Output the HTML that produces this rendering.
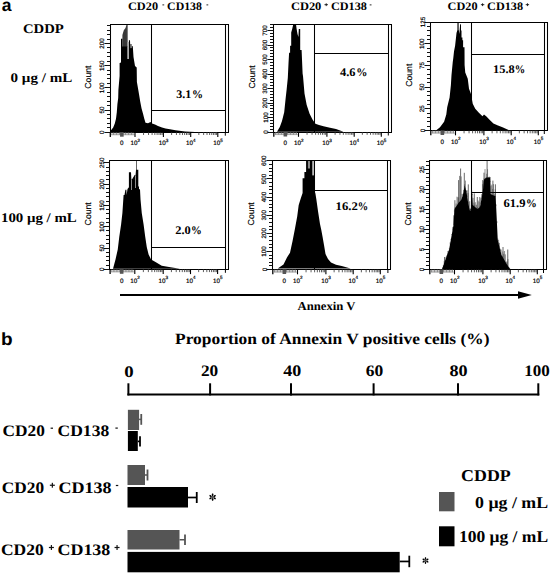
<!DOCTYPE html>
<html><head><meta charset="utf-8"><style>
html,body{margin:0;padding:0;background:#fff;width:552px;height:574px;overflow:hidden}
svg{display:block}
</style></head><body>
<svg width="552" height="574" viewBox="0 0 552 574" text-rendering="geometricPrecision">
<rect width="552" height="574" fill="#fff"/>
<polygon points="122.40,47.00 122.40,35.00 123.80,30.30 125.50,28.10 126.60,24.60 127.60,24.60 127.60,47.00" fill="#383838" />
<polygon points="110.00,132.00 111.20,129.90 113.20,127.50 114.80,123.50 116.00,118.70 116.80,112.30 117.40,104.30 118.20,98.00 118.40,90.00 119.60,76.00 119.60,63.00 121.00,62.50 121.00,38.80 122.40,38.80 122.40,46.50 127.60,46.50 127.60,59.00 128.90,59.00 128.90,40.20 130.00,40.20 130.30,48.00 131.60,48.00 131.80,46.10 132.80,46.30 133.50,57.00 135.00,66.00 136.70,67.40 136.90,82.00 138.30,90.00 139.10,94.80 140.30,102.00 141.50,108.30 143.10,113.90 144.30,118.70 145.50,122.70 148.00,123.20 150.50,122.00 152.00,123.50 155.00,124.60 158.00,126.00 162.00,127.40 165.50,128.50 170.00,129.30 175.50,130.30 185.00,131.50 200.00,132.20" fill="#000" />
<rect x="127.60" y="42.00" width="1.30" height="17.00" fill="#a8a8a8"/>
<rect x="130.10" y="44.00" width="1.60" height="4.20" fill="#5a5a5a"/>
<rect x="126.90" y="24.60" width="0.60" height="17.40" fill="#777"/>
<path d="M110.5 24.0V133.0M110.0 24.5H229.0M228.5 24.5V132.5M110.0 132.5H229.0M151.5 24.5V132.5M225.5 24.5V132.5M151.5 110.5H225.5" stroke="#000" stroke-width="1.05" fill="none"/>
<line x1="110.30" y1="132.20" x2="110.30" y2="137.00" stroke="#000" stroke-width="1.3" />
<line x1="112.00" y1="132.20" x2="112.00" y2="135.00" stroke="#666" stroke-width="0.7" />
<line x1="113.50" y1="132.20" x2="113.50" y2="135.00" stroke="#666" stroke-width="0.7" />
<line x1="115.00" y1="132.20" x2="115.00" y2="135.00" stroke="#666" stroke-width="0.7" />
<line x1="116.50" y1="132.20" x2="116.50" y2="135.00" stroke="#666" stroke-width="0.7" />
<line x1="118.00" y1="132.20" x2="118.00" y2="135.00" stroke="#666" stroke-width="0.7" />
<line x1="119.50" y1="132.20" x2="119.50" y2="135.00" stroke="#666" stroke-width="0.7" />
<line x1="121.00" y1="132.20" x2="121.00" y2="135.00" stroke="#666" stroke-width="0.7" />
<line x1="122.50" y1="132.20" x2="122.50" y2="135.00" stroke="#666" stroke-width="0.7" />
<line x1="124.00" y1="132.20" x2="124.00" y2="135.00" stroke="#666" stroke-width="0.7" />
<line x1="125.50" y1="132.20" x2="125.50" y2="135.00" stroke="#666" stroke-width="0.7" />
<line x1="127.00" y1="132.20" x2="127.00" y2="135.00" stroke="#666" stroke-width="0.7" />
<line x1="128.50" y1="132.20" x2="128.50" y2="135.00" stroke="#666" stroke-width="0.7" />
<line x1="130.00" y1="132.20" x2="130.00" y2="135.00" stroke="#666" stroke-width="0.7" />
<line x1="131.50" y1="132.20" x2="131.50" y2="135.00" stroke="#666" stroke-width="0.7" />
<line x1="133.00" y1="132.20" x2="133.00" y2="135.00" stroke="#666" stroke-width="0.7" />
<line x1="111.00" y1="134.80" x2="135.00" y2="134.80" stroke="#888" stroke-width="0.6" />
<rect x="120.05" y="132.20" width="3.6" height="4.5" fill="#555"/>
<line x1="135.00" y1="132.20" x2="135.00" y2="137.00" stroke="#000" stroke-width="1.1" />
<line x1="143.55" y1="132.20" x2="143.55" y2="135.00" stroke="#333" stroke-width="0.8" />
<line x1="148.55" y1="132.20" x2="148.55" y2="135.00" stroke="#333" stroke-width="0.8" />
<line x1="152.10" y1="132.20" x2="152.10" y2="135.00" stroke="#333" stroke-width="0.8" />
<line x1="154.85" y1="132.20" x2="154.85" y2="135.00" stroke="#333" stroke-width="0.8" />
<line x1="157.10" y1="132.20" x2="157.10" y2="135.00" stroke="#333" stroke-width="0.8" />
<line x1="159.00" y1="132.20" x2="159.00" y2="135.00" stroke="#333" stroke-width="0.8" />
<line x1="160.65" y1="132.20" x2="160.65" y2="135.00" stroke="#333" stroke-width="0.8" />
<line x1="162.10" y1="132.20" x2="162.10" y2="135.00" stroke="#333" stroke-width="0.8" />
<line x1="163.40" y1="132.20" x2="163.40" y2="137.00" stroke="#000" stroke-width="1.1" />
<line x1="171.62" y1="132.20" x2="171.62" y2="135.00" stroke="#333" stroke-width="0.8" />
<line x1="176.43" y1="132.20" x2="176.43" y2="135.00" stroke="#333" stroke-width="0.8" />
<line x1="179.84" y1="132.20" x2="179.84" y2="135.00" stroke="#333" stroke-width="0.8" />
<line x1="182.48" y1="132.20" x2="182.48" y2="135.00" stroke="#333" stroke-width="0.8" />
<line x1="184.64" y1="132.20" x2="184.64" y2="135.00" stroke="#333" stroke-width="0.8" />
<line x1="186.47" y1="132.20" x2="186.47" y2="135.00" stroke="#333" stroke-width="0.8" />
<line x1="188.05" y1="132.20" x2="188.05" y2="135.00" stroke="#333" stroke-width="0.8" />
<line x1="189.45" y1="132.20" x2="189.45" y2="135.00" stroke="#333" stroke-width="0.8" />
<line x1="190.70" y1="132.20" x2="190.70" y2="137.00" stroke="#000" stroke-width="1.1" />
<line x1="198.86" y1="132.20" x2="198.86" y2="135.00" stroke="#333" stroke-width="0.8" />
<line x1="203.63" y1="132.20" x2="203.63" y2="135.00" stroke="#333" stroke-width="0.8" />
<line x1="207.02" y1="132.20" x2="207.02" y2="135.00" stroke="#333" stroke-width="0.8" />
<line x1="209.64" y1="132.20" x2="209.64" y2="135.00" stroke="#333" stroke-width="0.8" />
<line x1="211.79" y1="132.20" x2="211.79" y2="135.00" stroke="#333" stroke-width="0.8" />
<line x1="213.60" y1="132.20" x2="213.60" y2="135.00" stroke="#333" stroke-width="0.8" />
<line x1="215.17" y1="132.20" x2="215.17" y2="135.00" stroke="#333" stroke-width="0.8" />
<line x1="216.56" y1="132.20" x2="216.56" y2="135.00" stroke="#333" stroke-width="0.8" />
<line x1="217.80" y1="132.20" x2="217.80" y2="137.00" stroke="#000" stroke-width="1.1" />
<line x1="225.30" y1="132.20" x2="225.30" y2="135.70" stroke="#000" stroke-width="1" />
<text x="121.85" y="145.40" font-family='"Liberation Sans", sans-serif' font-size="6.3" stroke="#000" stroke-width="0.18" text-anchor="middle">0</text>
<text x="130.40" y="145.40" font-family='"Liberation Sans", sans-serif' font-size="6.3" stroke="#000" stroke-width="0.18">10<tspan font-size="4.6" dy="-3.6">2</tspan></text>
<text x="158.80" y="145.40" font-family='"Liberation Sans", sans-serif' font-size="6.3" stroke="#000" stroke-width="0.18">10<tspan font-size="4.6" dy="-3.6">3</tspan></text>
<text x="186.10" y="145.40" font-family='"Liberation Sans", sans-serif' font-size="6.3" stroke="#000" stroke-width="0.18">10<tspan font-size="4.6" dy="-3.6">4</tspan></text>
<text x="213.20" y="145.40" font-family='"Liberation Sans", sans-serif' font-size="6.3" stroke="#000" stroke-width="0.18">10<tspan font-size="4.6" dy="-3.6">5</tspan></text>
<line x1="104.50" y1="132.50" x2="110.50" y2="132.50" stroke="#111" stroke-width="1.0" />
<line x1="107.00" y1="127.50" x2="110.50" y2="127.50" stroke="#111" stroke-width="1.0" />
<line x1="107.00" y1="123.50" x2="110.50" y2="123.50" stroke="#111" stroke-width="1.0" />
<line x1="107.00" y1="118.50" x2="110.50" y2="118.50" stroke="#111" stroke-width="1.0" />
<line x1="107.00" y1="114.50" x2="110.50" y2="114.50" stroke="#111" stroke-width="1.0" />
<line x1="104.50" y1="110.50" x2="110.50" y2="110.50" stroke="#111" stroke-width="1.0" />
<line x1="107.00" y1="105.50" x2="110.50" y2="105.50" stroke="#111" stroke-width="1.0" />
<line x1="107.00" y1="101.50" x2="110.50" y2="101.50" stroke="#111" stroke-width="1.0" />
<line x1="107.00" y1="96.50" x2="110.50" y2="96.50" stroke="#111" stroke-width="1.0" />
<line x1="107.00" y1="92.50" x2="110.50" y2="92.50" stroke="#111" stroke-width="1.0" />
<line x1="104.50" y1="87.50" x2="110.50" y2="87.50" stroke="#111" stroke-width="1.0" />
<line x1="107.00" y1="83.50" x2="110.50" y2="83.50" stroke="#111" stroke-width="1.0" />
<line x1="107.00" y1="78.50" x2="110.50" y2="78.50" stroke="#111" stroke-width="1.0" />
<line x1="107.00" y1="74.50" x2="110.50" y2="74.50" stroke="#111" stroke-width="1.0" />
<line x1="107.00" y1="70.50" x2="110.50" y2="70.50" stroke="#111" stroke-width="1.0" />
<line x1="104.50" y1="65.50" x2="110.50" y2="65.50" stroke="#111" stroke-width="1.0" />
<line x1="107.00" y1="61.50" x2="110.50" y2="61.50" stroke="#111" stroke-width="1.0" />
<line x1="107.00" y1="56.50" x2="110.50" y2="56.50" stroke="#111" stroke-width="1.0" />
<line x1="107.00" y1="52.50" x2="110.50" y2="52.50" stroke="#111" stroke-width="1.0" />
<line x1="107.00" y1="47.50" x2="110.50" y2="47.50" stroke="#111" stroke-width="1.0" />
<line x1="104.50" y1="43.50" x2="110.50" y2="43.50" stroke="#111" stroke-width="1.0" />
<line x1="107.00" y1="39.50" x2="110.50" y2="39.50" stroke="#111" stroke-width="1.0" />
<line x1="107.00" y1="34.50" x2="110.50" y2="34.50" stroke="#111" stroke-width="1.0" />
<line x1="107.00" y1="30.50" x2="110.50" y2="30.50" stroke="#111" stroke-width="1.0" />
<line x1="107.00" y1="25.50" x2="110.50" y2="25.50" stroke="#111" stroke-width="1.0" />
<text x="104.00" y="132.20" font-family='"Liberation Sans", sans-serif' font-size="6.3" stroke="#000" stroke-width="0.18" text-anchor="middle" transform="rotate(-90 104.00 132.20)">0</text>
<text x="104.00" y="110.03" font-family='"Liberation Sans", sans-serif' font-size="6.3" stroke="#000" stroke-width="0.18" text-anchor="middle" transform="rotate(-90 104.00 110.03)">50</text>
<text x="104.00" y="87.86" font-family='"Liberation Sans", sans-serif' font-size="6.3" stroke="#000" stroke-width="0.18" text-anchor="middle" transform="rotate(-90 104.00 87.86)">100</text>
<text x="104.00" y="65.68" font-family='"Liberation Sans", sans-serif' font-size="6.3" stroke="#000" stroke-width="0.18" text-anchor="middle" transform="rotate(-90 104.00 65.68)">150</text>
<text x="104.00" y="43.51" font-family='"Liberation Sans", sans-serif' font-size="6.3" stroke="#000" stroke-width="0.18" text-anchor="middle" transform="rotate(-90 104.00 43.51)">200</text>
<text x="91.50" y="77.10" font-family='"Liberation Sans", sans-serif' font-size="8.7" stroke="#000" stroke-width="0.15" text-anchor="middle" transform="rotate(-90 91.50 77.10)">Count</text>
<polygon points="277.00,131.80 279.90,126.70 282.00,121.00 284.20,112.20 285.70,97.70 286.70,89.00 287.80,78.00 288.50,63.50 289.10,52.70 290.10,52.70 290.10,45.70 291.20,45.70 291.20,32.50 292.20,29.00 293.30,24.30 296.00,24.30 296.50,28.30 297.50,33.90 298.40,37.00 298.80,29.00 300.20,29.00 300.20,49.90 301.60,49.90 302.60,73.60 303.00,76.00 304.50,93.40 306.70,105.00 309.60,113.70 312.50,119.50 315.40,123.80 319.00,125.00 323.50,126.30 330.00,127.80 336.00,129.00 343.50,131.70" fill="#000" />
<path d="M273.5 24.0V133.0M273.0 24.5H392.0M391.5 24.5V132.5M273.0 132.5H392.0M314.5 24.5V132.5M388.5 24.5V132.5M314.5 53.5H388.5" stroke="#000" stroke-width="1.05" fill="none"/>
<line x1="273.80" y1="132.00" x2="273.80" y2="136.80" stroke="#000" stroke-width="1.3" />
<line x1="275.50" y1="132.00" x2="275.50" y2="134.80" stroke="#666" stroke-width="0.7" />
<line x1="277.00" y1="132.00" x2="277.00" y2="134.80" stroke="#666" stroke-width="0.7" />
<line x1="278.50" y1="132.00" x2="278.50" y2="134.80" stroke="#666" stroke-width="0.7" />
<line x1="280.00" y1="132.00" x2="280.00" y2="134.80" stroke="#666" stroke-width="0.7" />
<line x1="281.50" y1="132.00" x2="281.50" y2="134.80" stroke="#666" stroke-width="0.7" />
<line x1="283.00" y1="132.00" x2="283.00" y2="134.80" stroke="#666" stroke-width="0.7" />
<line x1="284.50" y1="132.00" x2="284.50" y2="134.80" stroke="#666" stroke-width="0.7" />
<line x1="286.00" y1="132.00" x2="286.00" y2="134.80" stroke="#666" stroke-width="0.7" />
<line x1="287.50" y1="132.00" x2="287.50" y2="134.80" stroke="#666" stroke-width="0.7" />
<line x1="289.00" y1="132.00" x2="289.00" y2="134.80" stroke="#666" stroke-width="0.7" />
<line x1="290.50" y1="132.00" x2="290.50" y2="134.80" stroke="#666" stroke-width="0.7" />
<line x1="292.00" y1="132.00" x2="292.00" y2="134.80" stroke="#666" stroke-width="0.7" />
<line x1="293.50" y1="132.00" x2="293.50" y2="134.80" stroke="#666" stroke-width="0.7" />
<line x1="295.00" y1="132.00" x2="295.00" y2="134.80" stroke="#666" stroke-width="0.7" />
<line x1="296.50" y1="132.00" x2="296.50" y2="134.80" stroke="#666" stroke-width="0.7" />
<line x1="274.50" y1="134.60" x2="298.50" y2="134.60" stroke="#888" stroke-width="0.6" />
<rect x="283.55" y="132.00" width="3.6" height="4.5" fill="#555"/>
<line x1="298.50" y1="132.00" x2="298.50" y2="136.80" stroke="#000" stroke-width="1.1" />
<line x1="307.05" y1="132.00" x2="307.05" y2="134.80" stroke="#333" stroke-width="0.8" />
<line x1="312.05" y1="132.00" x2="312.05" y2="134.80" stroke="#333" stroke-width="0.8" />
<line x1="315.60" y1="132.00" x2="315.60" y2="134.80" stroke="#333" stroke-width="0.8" />
<line x1="318.35" y1="132.00" x2="318.35" y2="134.80" stroke="#333" stroke-width="0.8" />
<line x1="320.60" y1="132.00" x2="320.60" y2="134.80" stroke="#333" stroke-width="0.8" />
<line x1="322.50" y1="132.00" x2="322.50" y2="134.80" stroke="#333" stroke-width="0.8" />
<line x1="324.15" y1="132.00" x2="324.15" y2="134.80" stroke="#333" stroke-width="0.8" />
<line x1="325.60" y1="132.00" x2="325.60" y2="134.80" stroke="#333" stroke-width="0.8" />
<line x1="326.90" y1="132.00" x2="326.90" y2="136.80" stroke="#000" stroke-width="1.1" />
<line x1="335.12" y1="132.00" x2="335.12" y2="134.80" stroke="#333" stroke-width="0.8" />
<line x1="339.93" y1="132.00" x2="339.93" y2="134.80" stroke="#333" stroke-width="0.8" />
<line x1="343.34" y1="132.00" x2="343.34" y2="134.80" stroke="#333" stroke-width="0.8" />
<line x1="345.98" y1="132.00" x2="345.98" y2="134.80" stroke="#333" stroke-width="0.8" />
<line x1="348.14" y1="132.00" x2="348.14" y2="134.80" stroke="#333" stroke-width="0.8" />
<line x1="349.97" y1="132.00" x2="349.97" y2="134.80" stroke="#333" stroke-width="0.8" />
<line x1="351.55" y1="132.00" x2="351.55" y2="134.80" stroke="#333" stroke-width="0.8" />
<line x1="352.95" y1="132.00" x2="352.95" y2="134.80" stroke="#333" stroke-width="0.8" />
<line x1="354.20" y1="132.00" x2="354.20" y2="136.80" stroke="#000" stroke-width="1.1" />
<line x1="362.36" y1="132.00" x2="362.36" y2="134.80" stroke="#333" stroke-width="0.8" />
<line x1="367.13" y1="132.00" x2="367.13" y2="134.80" stroke="#333" stroke-width="0.8" />
<line x1="370.52" y1="132.00" x2="370.52" y2="134.80" stroke="#333" stroke-width="0.8" />
<line x1="373.14" y1="132.00" x2="373.14" y2="134.80" stroke="#333" stroke-width="0.8" />
<line x1="375.29" y1="132.00" x2="375.29" y2="134.80" stroke="#333" stroke-width="0.8" />
<line x1="377.10" y1="132.00" x2="377.10" y2="134.80" stroke="#333" stroke-width="0.8" />
<line x1="378.67" y1="132.00" x2="378.67" y2="134.80" stroke="#333" stroke-width="0.8" />
<line x1="380.06" y1="132.00" x2="380.06" y2="134.80" stroke="#333" stroke-width="0.8" />
<line x1="381.30" y1="132.00" x2="381.30" y2="136.80" stroke="#000" stroke-width="1.1" />
<line x1="388.30" y1="132.00" x2="388.30" y2="135.50" stroke="#000" stroke-width="1" />
<text x="285.35" y="145.20" font-family='"Liberation Sans", sans-serif' font-size="6.3" stroke="#000" stroke-width="0.18" text-anchor="middle">0</text>
<text x="293.90" y="145.20" font-family='"Liberation Sans", sans-serif' font-size="6.3" stroke="#000" stroke-width="0.18">10<tspan font-size="4.6" dy="-3.6">2</tspan></text>
<text x="322.30" y="145.20" font-family='"Liberation Sans", sans-serif' font-size="6.3" stroke="#000" stroke-width="0.18">10<tspan font-size="4.6" dy="-3.6">3</tspan></text>
<text x="349.60" y="145.20" font-family='"Liberation Sans", sans-serif' font-size="6.3" stroke="#000" stroke-width="0.18">10<tspan font-size="4.6" dy="-3.6">4</tspan></text>
<text x="376.70" y="145.20" font-family='"Liberation Sans", sans-serif' font-size="6.3" stroke="#000" stroke-width="0.18">10<tspan font-size="4.6" dy="-3.6">5</tspan></text>
<line x1="267.50" y1="132.50" x2="273.50" y2="132.50" stroke="#111" stroke-width="1.0" />
<line x1="270.00" y1="129.50" x2="273.50" y2="129.50" stroke="#111" stroke-width="1.0" />
<line x1="270.00" y1="126.50" x2="273.50" y2="126.50" stroke="#111" stroke-width="1.0" />
<line x1="270.00" y1="123.50" x2="273.50" y2="123.50" stroke="#111" stroke-width="1.0" />
<line x1="270.00" y1="120.50" x2="273.50" y2="120.50" stroke="#111" stroke-width="1.0" />
<line x1="267.50" y1="117.50" x2="273.50" y2="117.50" stroke="#111" stroke-width="1.0" />
<line x1="270.00" y1="114.50" x2="273.50" y2="114.50" stroke="#111" stroke-width="1.0" />
<line x1="270.00" y1="111.50" x2="273.50" y2="111.50" stroke="#111" stroke-width="1.0" />
<line x1="270.00" y1="108.50" x2="273.50" y2="108.50" stroke="#111" stroke-width="1.0" />
<line x1="270.00" y1="105.50" x2="273.50" y2="105.50" stroke="#111" stroke-width="1.0" />
<line x1="267.50" y1="103.50" x2="273.50" y2="103.50" stroke="#111" stroke-width="1.0" />
<line x1="270.00" y1="100.50" x2="273.50" y2="100.50" stroke="#111" stroke-width="1.0" />
<line x1="270.00" y1="97.50" x2="273.50" y2="97.50" stroke="#111" stroke-width="1.0" />
<line x1="270.00" y1="94.50" x2="273.50" y2="94.50" stroke="#111" stroke-width="1.0" />
<line x1="270.00" y1="91.50" x2="273.50" y2="91.50" stroke="#111" stroke-width="1.0" />
<line x1="267.50" y1="88.50" x2="273.50" y2="88.50" stroke="#111" stroke-width="1.0" />
<line x1="270.00" y1="85.50" x2="273.50" y2="85.50" stroke="#111" stroke-width="1.0" />
<line x1="270.00" y1="82.50" x2="273.50" y2="82.50" stroke="#111" stroke-width="1.0" />
<line x1="270.00" y1="79.50" x2="273.50" y2="79.50" stroke="#111" stroke-width="1.0" />
<line x1="270.00" y1="76.50" x2="273.50" y2="76.50" stroke="#111" stroke-width="1.0" />
<line x1="267.50" y1="74.50" x2="273.50" y2="74.50" stroke="#111" stroke-width="1.0" />
<line x1="270.00" y1="71.50" x2="273.50" y2="71.50" stroke="#111" stroke-width="1.0" />
<line x1="270.00" y1="68.50" x2="273.50" y2="68.50" stroke="#111" stroke-width="1.0" />
<line x1="270.00" y1="65.50" x2="273.50" y2="65.50" stroke="#111" stroke-width="1.0" />
<line x1="270.00" y1="62.50" x2="273.50" y2="62.50" stroke="#111" stroke-width="1.0" />
<line x1="267.50" y1="59.50" x2="273.50" y2="59.50" stroke="#111" stroke-width="1.0" />
<line x1="270.00" y1="56.50" x2="273.50" y2="56.50" stroke="#111" stroke-width="1.0" />
<line x1="270.00" y1="53.50" x2="273.50" y2="53.50" stroke="#111" stroke-width="1.0" />
<line x1="270.00" y1="50.50" x2="273.50" y2="50.50" stroke="#111" stroke-width="1.0" />
<line x1="270.00" y1="47.50" x2="273.50" y2="47.50" stroke="#111" stroke-width="1.0" />
<line x1="267.50" y1="45.50" x2="273.50" y2="45.50" stroke="#111" stroke-width="1.0" />
<line x1="270.00" y1="42.50" x2="273.50" y2="42.50" stroke="#111" stroke-width="1.0" />
<line x1="270.00" y1="39.50" x2="273.50" y2="39.50" stroke="#111" stroke-width="1.0" />
<line x1="270.00" y1="36.50" x2="273.50" y2="36.50" stroke="#111" stroke-width="1.0" />
<line x1="270.00" y1="33.50" x2="273.50" y2="33.50" stroke="#111" stroke-width="1.0" />
<line x1="267.50" y1="30.50" x2="273.50" y2="30.50" stroke="#111" stroke-width="1.0" />
<line x1="270.00" y1="27.50" x2="273.50" y2="27.50" stroke="#111" stroke-width="1.0" />
<line x1="270.00" y1="24.50" x2="273.50" y2="24.50" stroke="#111" stroke-width="1.0" />
<text x="267.50" y="132.00" font-family='"Liberation Sans", sans-serif' font-size="6.3" stroke="#000" stroke-width="0.18" text-anchor="middle" transform="rotate(-90 267.50 132.00)">0</text>
<text x="267.50" y="117.50" font-family='"Liberation Sans", sans-serif' font-size="6.3" stroke="#000" stroke-width="0.18" text-anchor="middle" transform="rotate(-90 267.50 117.50)">100</text>
<text x="267.50" y="103.01" font-family='"Liberation Sans", sans-serif' font-size="6.3" stroke="#000" stroke-width="0.18" text-anchor="middle" transform="rotate(-90 267.50 103.01)">200</text>
<text x="267.50" y="88.51" font-family='"Liberation Sans", sans-serif' font-size="6.3" stroke="#000" stroke-width="0.18" text-anchor="middle" transform="rotate(-90 267.50 88.51)">300</text>
<text x="267.50" y="74.01" font-family='"Liberation Sans", sans-serif' font-size="6.3" stroke="#000" stroke-width="0.18" text-anchor="middle" transform="rotate(-90 267.50 74.01)">400</text>
<text x="267.50" y="59.52" font-family='"Liberation Sans", sans-serif' font-size="6.3" stroke="#000" stroke-width="0.18" text-anchor="middle" transform="rotate(-90 267.50 59.52)">500</text>
<text x="267.50" y="45.02" font-family='"Liberation Sans", sans-serif' font-size="6.3" stroke="#000" stroke-width="0.18" text-anchor="middle" transform="rotate(-90 267.50 45.02)">600</text>
<text x="267.50" y="30.52" font-family='"Liberation Sans", sans-serif' font-size="6.3" stroke="#000" stroke-width="0.18" text-anchor="middle" transform="rotate(-90 267.50 30.52)">700</text>
<text x="255.00" y="77.00" font-family='"Liberation Sans", sans-serif' font-size="8.7" stroke="#000" stroke-width="0.15" text-anchor="middle" transform="rotate(-90 255.00 77.00)">Count</text>
<polygon points="436.30,130.20 440.00,127.20 444.10,121.70 446.30,114.50 447.20,107.20 449.60,97.50 450.90,85.00 451.50,75.00 452.75,62.00 453.30,58.00 454.00,51.40 455.10,45.80 456.10,36.70 456.50,32.90 457.40,30.00 457.50,22.60 458.70,22.60 458.80,30.00 459.30,34.00 460.00,26.00 460.20,24.20 461.00,24.20 461.00,30.50 461.50,30.50 461.50,37.40 462.40,37.40 462.40,40.20 463.10,40.20 463.10,47.20 464.50,47.20 464.60,65.00 465.25,72.50 467.75,78.75 469.00,88.75 470.90,93.75 472.75,103.75 475.25,108.75 478.90,112.70 482.50,116.30 484.00,114.50 486.20,116.30 489.80,120.00 493.40,123.60 498.00,125.50 502.50,127.20 509.70,130.40" fill="#000" />
<rect x="457.50" y="22.60" width="1.20" height="7.40" fill="#6a6a6a"/>
<path d="M430.5 22.0V131.0M430.0 22.5H548.0M547.5 22.5V130.5M430.0 130.5H548.0M471.5 22.5V130.5M544.5 22.5V130.5M471.5 54.5H544.5" stroke="#000" stroke-width="1.05" fill="none"/>
<line x1="430.80" y1="130.50" x2="430.80" y2="135.30" stroke="#000" stroke-width="1.3" />
<line x1="432.50" y1="130.50" x2="432.50" y2="133.30" stroke="#666" stroke-width="0.7" />
<line x1="434.00" y1="130.50" x2="434.00" y2="133.30" stroke="#666" stroke-width="0.7" />
<line x1="435.50" y1="130.50" x2="435.50" y2="133.30" stroke="#666" stroke-width="0.7" />
<line x1="437.00" y1="130.50" x2="437.00" y2="133.30" stroke="#666" stroke-width="0.7" />
<line x1="438.50" y1="130.50" x2="438.50" y2="133.30" stroke="#666" stroke-width="0.7" />
<line x1="440.00" y1="130.50" x2="440.00" y2="133.30" stroke="#666" stroke-width="0.7" />
<line x1="441.50" y1="130.50" x2="441.50" y2="133.30" stroke="#666" stroke-width="0.7" />
<line x1="443.00" y1="130.50" x2="443.00" y2="133.30" stroke="#666" stroke-width="0.7" />
<line x1="444.50" y1="130.50" x2="444.50" y2="133.30" stroke="#666" stroke-width="0.7" />
<line x1="446.00" y1="130.50" x2="446.00" y2="133.30" stroke="#666" stroke-width="0.7" />
<line x1="447.50" y1="130.50" x2="447.50" y2="133.30" stroke="#666" stroke-width="0.7" />
<line x1="449.00" y1="130.50" x2="449.00" y2="133.30" stroke="#666" stroke-width="0.7" />
<line x1="450.50" y1="130.50" x2="450.50" y2="133.30" stroke="#666" stroke-width="0.7" />
<line x1="452.00" y1="130.50" x2="452.00" y2="133.30" stroke="#666" stroke-width="0.7" />
<line x1="453.50" y1="130.50" x2="453.50" y2="133.30" stroke="#666" stroke-width="0.7" />
<line x1="431.50" y1="133.10" x2="455.50" y2="133.10" stroke="#888" stroke-width="0.6" />
<rect x="440.55" y="130.50" width="3.6" height="4.5" fill="#555"/>
<line x1="455.50" y1="130.50" x2="455.50" y2="135.30" stroke="#000" stroke-width="1.1" />
<line x1="464.05" y1="130.50" x2="464.05" y2="133.30" stroke="#333" stroke-width="0.8" />
<line x1="469.05" y1="130.50" x2="469.05" y2="133.30" stroke="#333" stroke-width="0.8" />
<line x1="472.60" y1="130.50" x2="472.60" y2="133.30" stroke="#333" stroke-width="0.8" />
<line x1="475.35" y1="130.50" x2="475.35" y2="133.30" stroke="#333" stroke-width="0.8" />
<line x1="477.60" y1="130.50" x2="477.60" y2="133.30" stroke="#333" stroke-width="0.8" />
<line x1="479.50" y1="130.50" x2="479.50" y2="133.30" stroke="#333" stroke-width="0.8" />
<line x1="481.15" y1="130.50" x2="481.15" y2="133.30" stroke="#333" stroke-width="0.8" />
<line x1="482.60" y1="130.50" x2="482.60" y2="133.30" stroke="#333" stroke-width="0.8" />
<line x1="483.90" y1="130.50" x2="483.90" y2="135.30" stroke="#000" stroke-width="1.1" />
<line x1="492.12" y1="130.50" x2="492.12" y2="133.30" stroke="#333" stroke-width="0.8" />
<line x1="496.93" y1="130.50" x2="496.93" y2="133.30" stroke="#333" stroke-width="0.8" />
<line x1="500.34" y1="130.50" x2="500.34" y2="133.30" stroke="#333" stroke-width="0.8" />
<line x1="502.98" y1="130.50" x2="502.98" y2="133.30" stroke="#333" stroke-width="0.8" />
<line x1="505.14" y1="130.50" x2="505.14" y2="133.30" stroke="#333" stroke-width="0.8" />
<line x1="506.97" y1="130.50" x2="506.97" y2="133.30" stroke="#333" stroke-width="0.8" />
<line x1="508.55" y1="130.50" x2="508.55" y2="133.30" stroke="#333" stroke-width="0.8" />
<line x1="509.95" y1="130.50" x2="509.95" y2="133.30" stroke="#333" stroke-width="0.8" />
<line x1="511.20" y1="130.50" x2="511.20" y2="135.30" stroke="#000" stroke-width="1.1" />
<line x1="519.36" y1="130.50" x2="519.36" y2="133.30" stroke="#333" stroke-width="0.8" />
<line x1="524.13" y1="130.50" x2="524.13" y2="133.30" stroke="#333" stroke-width="0.8" />
<line x1="527.52" y1="130.50" x2="527.52" y2="133.30" stroke="#333" stroke-width="0.8" />
<line x1="530.14" y1="130.50" x2="530.14" y2="133.30" stroke="#333" stroke-width="0.8" />
<line x1="532.29" y1="130.50" x2="532.29" y2="133.30" stroke="#333" stroke-width="0.8" />
<line x1="534.10" y1="130.50" x2="534.10" y2="133.30" stroke="#333" stroke-width="0.8" />
<line x1="535.67" y1="130.50" x2="535.67" y2="133.30" stroke="#333" stroke-width="0.8" />
<line x1="537.06" y1="130.50" x2="537.06" y2="133.30" stroke="#333" stroke-width="0.8" />
<line x1="538.30" y1="130.50" x2="538.30" y2="135.30" stroke="#000" stroke-width="1.1" />
<line x1="544.30" y1="130.50" x2="544.30" y2="134.00" stroke="#000" stroke-width="1" />
<text x="442.35" y="143.70" font-family='"Liberation Sans", sans-serif' font-size="6.3" stroke="#000" stroke-width="0.18" text-anchor="middle">0</text>
<text x="450.90" y="143.70" font-family='"Liberation Sans", sans-serif' font-size="6.3" stroke="#000" stroke-width="0.18">10<tspan font-size="4.6" dy="-3.6">2</tspan></text>
<text x="479.30" y="143.70" font-family='"Liberation Sans", sans-serif' font-size="6.3" stroke="#000" stroke-width="0.18">10<tspan font-size="4.6" dy="-3.6">3</tspan></text>
<text x="506.60" y="143.70" font-family='"Liberation Sans", sans-serif' font-size="6.3" stroke="#000" stroke-width="0.18">10<tspan font-size="4.6" dy="-3.6">4</tspan></text>
<text x="533.70" y="143.70" font-family='"Liberation Sans", sans-serif' font-size="6.3" stroke="#000" stroke-width="0.18">10<tspan font-size="4.6" dy="-3.6">5</tspan></text>
<line x1="424.50" y1="130.50" x2="430.50" y2="130.50" stroke="#111" stroke-width="1.0" />
<line x1="427.00" y1="126.50" x2="430.50" y2="126.50" stroke="#111" stroke-width="1.0" />
<line x1="427.00" y1="121.50" x2="430.50" y2="121.50" stroke="#111" stroke-width="1.0" />
<line x1="427.00" y1="117.50" x2="430.50" y2="117.50" stroke="#111" stroke-width="1.0" />
<line x1="427.00" y1="113.50" x2="430.50" y2="113.50" stroke="#111" stroke-width="1.0" />
<line x1="424.50" y1="108.50" x2="430.50" y2="108.50" stroke="#111" stroke-width="1.0" />
<line x1="427.00" y1="104.50" x2="430.50" y2="104.50" stroke="#111" stroke-width="1.0" />
<line x1="427.00" y1="100.50" x2="430.50" y2="100.50" stroke="#111" stroke-width="1.0" />
<line x1="427.00" y1="95.50" x2="430.50" y2="95.50" stroke="#111" stroke-width="1.0" />
<line x1="427.00" y1="91.50" x2="430.50" y2="91.50" stroke="#111" stroke-width="1.0" />
<line x1="424.50" y1="87.50" x2="430.50" y2="87.50" stroke="#111" stroke-width="1.0" />
<line x1="427.00" y1="82.50" x2="430.50" y2="82.50" stroke="#111" stroke-width="1.0" />
<line x1="427.00" y1="78.50" x2="430.50" y2="78.50" stroke="#111" stroke-width="1.0" />
<line x1="427.00" y1="74.50" x2="430.50" y2="74.50" stroke="#111" stroke-width="1.0" />
<line x1="427.00" y1="69.50" x2="430.50" y2="69.50" stroke="#111" stroke-width="1.0" />
<line x1="424.50" y1="65.50" x2="430.50" y2="65.50" stroke="#111" stroke-width="1.0" />
<line x1="427.00" y1="61.50" x2="430.50" y2="61.50" stroke="#111" stroke-width="1.0" />
<line x1="427.00" y1="56.50" x2="430.50" y2="56.50" stroke="#111" stroke-width="1.0" />
<line x1="427.00" y1="52.50" x2="430.50" y2="52.50" stroke="#111" stroke-width="1.0" />
<line x1="427.00" y1="48.50" x2="430.50" y2="48.50" stroke="#111" stroke-width="1.0" />
<line x1="424.50" y1="43.50" x2="430.50" y2="43.50" stroke="#111" stroke-width="1.0" />
<line x1="427.00" y1="39.50" x2="430.50" y2="39.50" stroke="#111" stroke-width="1.0" />
<line x1="427.00" y1="35.50" x2="430.50" y2="35.50" stroke="#111" stroke-width="1.0" />
<line x1="427.00" y1="30.50" x2="430.50" y2="30.50" stroke="#111" stroke-width="1.0" />
<line x1="427.00" y1="26.50" x2="430.50" y2="26.50" stroke="#111" stroke-width="1.0" />
<line x1="424.50" y1="22.50" x2="430.50" y2="22.50" stroke="#111" stroke-width="1.0" />
<text x="424.50" y="130.50" font-family='"Liberation Sans", sans-serif' font-size="6.3" stroke="#000" stroke-width="0.18" text-anchor="middle" transform="rotate(-90 424.50 130.50)">0</text>
<text x="424.50" y="108.80" font-family='"Liberation Sans", sans-serif' font-size="6.3" stroke="#000" stroke-width="0.18" text-anchor="middle" transform="rotate(-90 424.50 108.80)">25</text>
<text x="424.50" y="87.10" font-family='"Liberation Sans", sans-serif' font-size="6.3" stroke="#000" stroke-width="0.18" text-anchor="middle" transform="rotate(-90 424.50 87.10)">50</text>
<text x="424.50" y="65.40" font-family='"Liberation Sans", sans-serif' font-size="6.3" stroke="#000" stroke-width="0.18" text-anchor="middle" transform="rotate(-90 424.50 65.40)">75</text>
<text x="424.50" y="43.70" font-family='"Liberation Sans", sans-serif' font-size="6.3" stroke="#000" stroke-width="0.18" text-anchor="middle" transform="rotate(-90 424.50 43.70)">100</text>
<text x="424.50" y="22.00" font-family='"Liberation Sans", sans-serif' font-size="6.3" stroke="#000" stroke-width="0.18" text-anchor="middle" transform="rotate(-90 424.50 22.00)">125</text>
<text x="412.00" y="75.25" font-family='"Liberation Sans", sans-serif' font-size="8.7" stroke="#000" stroke-width="0.15" text-anchor="middle" transform="rotate(-90 412.00 75.25)">Count</text>
<polygon points="113.00,268.80 115.50,259.50 117.75,249.50 119.25,237.00 121.10,224.50 122.40,213.00 123.60,195.00 124.50,194.90 125.40,189.70 126.40,189.70 126.60,195.00 127.50,189.00 128.90,187.20 128.90,172.20 131.00,172.20 131.40,180.00 132.40,178.80 134.80,174.70 135.50,176.00 136.00,170.00 136.00,160.80 136.60,160.80 136.60,169.80 138.30,169.80 138.30,186.50 139.00,186.50 139.00,189.30 140.00,189.30 140.50,199.30 141.75,213.00 143.60,224.50 145.25,237.00 146.75,247.00 148.60,254.50 151.10,259.50 155.50,262.00 161.75,265.75 170.50,267.20 180.00,268.80" fill="#000" />
<rect x="131.10" y="180.00" width="0.70" height="10.00" fill="#c8c8c8"/>
<rect x="135.20" y="176.00" width="0.70" height="12.00" fill="#c8c8c8"/>
<path d="M109.5 160.0V270.0M109.0 160.5H229.0M228.5 160.5V269.5M109.0 269.5H229.0M151.5 160.5V269.5M225.5 160.5V269.5M151.5 247.5H225.5" stroke="#000" stroke-width="1.05" fill="none"/>
<line x1="110.10" y1="269.30" x2="110.10" y2="274.10" stroke="#000" stroke-width="1.3" />
<line x1="111.80" y1="269.30" x2="111.80" y2="272.10" stroke="#666" stroke-width="0.7" />
<line x1="113.30" y1="269.30" x2="113.30" y2="272.10" stroke="#666" stroke-width="0.7" />
<line x1="114.80" y1="269.30" x2="114.80" y2="272.10" stroke="#666" stroke-width="0.7" />
<line x1="116.30" y1="269.30" x2="116.30" y2="272.10" stroke="#666" stroke-width="0.7" />
<line x1="117.80" y1="269.30" x2="117.80" y2="272.10" stroke="#666" stroke-width="0.7" />
<line x1="119.30" y1="269.30" x2="119.30" y2="272.10" stroke="#666" stroke-width="0.7" />
<line x1="120.80" y1="269.30" x2="120.80" y2="272.10" stroke="#666" stroke-width="0.7" />
<line x1="122.30" y1="269.30" x2="122.30" y2="272.10" stroke="#666" stroke-width="0.7" />
<line x1="123.80" y1="269.30" x2="123.80" y2="272.10" stroke="#666" stroke-width="0.7" />
<line x1="125.30" y1="269.30" x2="125.30" y2="272.10" stroke="#666" stroke-width="0.7" />
<line x1="126.80" y1="269.30" x2="126.80" y2="272.10" stroke="#666" stroke-width="0.7" />
<line x1="128.30" y1="269.30" x2="128.30" y2="272.10" stroke="#666" stroke-width="0.7" />
<line x1="129.80" y1="269.30" x2="129.80" y2="272.10" stroke="#666" stroke-width="0.7" />
<line x1="131.30" y1="269.30" x2="131.30" y2="272.10" stroke="#666" stroke-width="0.7" />
<line x1="132.80" y1="269.30" x2="132.80" y2="272.10" stroke="#666" stroke-width="0.7" />
<line x1="110.80" y1="271.90" x2="134.80" y2="271.90" stroke="#888" stroke-width="0.6" />
<rect x="119.85" y="269.30" width="3.6" height="4.5" fill="#555"/>
<line x1="134.80" y1="269.30" x2="134.80" y2="274.10" stroke="#000" stroke-width="1.1" />
<line x1="143.35" y1="269.30" x2="143.35" y2="272.10" stroke="#333" stroke-width="0.8" />
<line x1="148.35" y1="269.30" x2="148.35" y2="272.10" stroke="#333" stroke-width="0.8" />
<line x1="151.90" y1="269.30" x2="151.90" y2="272.10" stroke="#333" stroke-width="0.8" />
<line x1="154.65" y1="269.30" x2="154.65" y2="272.10" stroke="#333" stroke-width="0.8" />
<line x1="156.90" y1="269.30" x2="156.90" y2="272.10" stroke="#333" stroke-width="0.8" />
<line x1="158.80" y1="269.30" x2="158.80" y2="272.10" stroke="#333" stroke-width="0.8" />
<line x1="160.45" y1="269.30" x2="160.45" y2="272.10" stroke="#333" stroke-width="0.8" />
<line x1="161.90" y1="269.30" x2="161.90" y2="272.10" stroke="#333" stroke-width="0.8" />
<line x1="163.20" y1="269.30" x2="163.20" y2="274.10" stroke="#000" stroke-width="1.1" />
<line x1="171.42" y1="269.30" x2="171.42" y2="272.10" stroke="#333" stroke-width="0.8" />
<line x1="176.23" y1="269.30" x2="176.23" y2="272.10" stroke="#333" stroke-width="0.8" />
<line x1="179.64" y1="269.30" x2="179.64" y2="272.10" stroke="#333" stroke-width="0.8" />
<line x1="182.28" y1="269.30" x2="182.28" y2="272.10" stroke="#333" stroke-width="0.8" />
<line x1="184.44" y1="269.30" x2="184.44" y2="272.10" stroke="#333" stroke-width="0.8" />
<line x1="186.27" y1="269.30" x2="186.27" y2="272.10" stroke="#333" stroke-width="0.8" />
<line x1="187.85" y1="269.30" x2="187.85" y2="272.10" stroke="#333" stroke-width="0.8" />
<line x1="189.25" y1="269.30" x2="189.25" y2="272.10" stroke="#333" stroke-width="0.8" />
<line x1="190.50" y1="269.30" x2="190.50" y2="274.10" stroke="#000" stroke-width="1.1" />
<line x1="198.66" y1="269.30" x2="198.66" y2="272.10" stroke="#333" stroke-width="0.8" />
<line x1="203.43" y1="269.30" x2="203.43" y2="272.10" stroke="#333" stroke-width="0.8" />
<line x1="206.82" y1="269.30" x2="206.82" y2="272.10" stroke="#333" stroke-width="0.8" />
<line x1="209.44" y1="269.30" x2="209.44" y2="272.10" stroke="#333" stroke-width="0.8" />
<line x1="211.59" y1="269.30" x2="211.59" y2="272.10" stroke="#333" stroke-width="0.8" />
<line x1="213.40" y1="269.30" x2="213.40" y2="272.10" stroke="#333" stroke-width="0.8" />
<line x1="214.97" y1="269.30" x2="214.97" y2="272.10" stroke="#333" stroke-width="0.8" />
<line x1="216.36" y1="269.30" x2="216.36" y2="272.10" stroke="#333" stroke-width="0.8" />
<line x1="217.60" y1="269.30" x2="217.60" y2="274.10" stroke="#000" stroke-width="1.1" />
<line x1="225.40" y1="269.30" x2="225.40" y2="272.80" stroke="#000" stroke-width="1" />
<text x="121.65" y="282.50" font-family='"Liberation Sans", sans-serif' font-size="6.3" stroke="#000" stroke-width="0.18" text-anchor="middle">0</text>
<text x="130.20" y="282.50" font-family='"Liberation Sans", sans-serif' font-size="6.3" stroke="#000" stroke-width="0.18">10<tspan font-size="4.6" dy="-3.6">2</tspan></text>
<text x="158.60" y="282.50" font-family='"Liberation Sans", sans-serif' font-size="6.3" stroke="#000" stroke-width="0.18">10<tspan font-size="4.6" dy="-3.6">3</tspan></text>
<text x="185.90" y="282.50" font-family='"Liberation Sans", sans-serif' font-size="6.3" stroke="#000" stroke-width="0.18">10<tspan font-size="4.6" dy="-3.6">4</tspan></text>
<text x="213.00" y="282.50" font-family='"Liberation Sans", sans-serif' font-size="6.3" stroke="#000" stroke-width="0.18">10<tspan font-size="4.6" dy="-3.6">5</tspan></text>
<line x1="103.50" y1="269.50" x2="109.50" y2="269.50" stroke="#111" stroke-width="1.0" />
<line x1="106.00" y1="265.50" x2="109.50" y2="265.50" stroke="#111" stroke-width="1.0" />
<line x1="106.00" y1="260.50" x2="109.50" y2="260.50" stroke="#111" stroke-width="1.0" />
<line x1="106.00" y1="256.50" x2="109.50" y2="256.50" stroke="#111" stroke-width="1.0" />
<line x1="106.00" y1="252.50" x2="109.50" y2="252.50" stroke="#111" stroke-width="1.0" />
<line x1="103.50" y1="248.50" x2="109.50" y2="248.50" stroke="#111" stroke-width="1.0" />
<line x1="106.00" y1="243.50" x2="109.50" y2="243.50" stroke="#111" stroke-width="1.0" />
<line x1="106.00" y1="239.50" x2="109.50" y2="239.50" stroke="#111" stroke-width="1.0" />
<line x1="106.00" y1="235.50" x2="109.50" y2="235.50" stroke="#111" stroke-width="1.0" />
<line x1="106.00" y1="230.50" x2="109.50" y2="230.50" stroke="#111" stroke-width="1.0" />
<line x1="103.50" y1="226.50" x2="109.50" y2="226.50" stroke="#111" stroke-width="1.0" />
<line x1="106.00" y1="222.50" x2="109.50" y2="222.50" stroke="#111" stroke-width="1.0" />
<line x1="106.00" y1="218.50" x2="109.50" y2="218.50" stroke="#111" stroke-width="1.0" />
<line x1="106.00" y1="213.50" x2="109.50" y2="213.50" stroke="#111" stroke-width="1.0" />
<line x1="106.00" y1="209.50" x2="109.50" y2="209.50" stroke="#111" stroke-width="1.0" />
<line x1="103.50" y1="205.50" x2="109.50" y2="205.50" stroke="#111" stroke-width="1.0" />
<line x1="106.00" y1="201.50" x2="109.50" y2="201.50" stroke="#111" stroke-width="1.0" />
<line x1="106.00" y1="196.50" x2="109.50" y2="196.50" stroke="#111" stroke-width="1.0" />
<line x1="106.00" y1="192.50" x2="109.50" y2="192.50" stroke="#111" stroke-width="1.0" />
<line x1="106.00" y1="188.50" x2="109.50" y2="188.50" stroke="#111" stroke-width="1.0" />
<line x1="103.50" y1="184.50" x2="109.50" y2="184.50" stroke="#111" stroke-width="1.0" />
<line x1="106.00" y1="179.50" x2="109.50" y2="179.50" stroke="#111" stroke-width="1.0" />
<line x1="106.00" y1="175.50" x2="109.50" y2="175.50" stroke="#111" stroke-width="1.0" />
<line x1="106.00" y1="171.50" x2="109.50" y2="171.50" stroke="#111" stroke-width="1.0" />
<line x1="106.00" y1="167.50" x2="109.50" y2="167.50" stroke="#111" stroke-width="1.0" />
<line x1="103.50" y1="162.50" x2="109.50" y2="162.50" stroke="#111" stroke-width="1.0" />
<text x="103.80" y="269.30" font-family='"Liberation Sans", sans-serif' font-size="6.3" stroke="#000" stroke-width="0.18" text-anchor="middle" transform="rotate(-90 103.80 269.30)">0</text>
<text x="103.80" y="248.01" font-family='"Liberation Sans", sans-serif' font-size="6.3" stroke="#000" stroke-width="0.18" text-anchor="middle" transform="rotate(-90 103.80 248.01)">50</text>
<text x="103.80" y="226.72" font-family='"Liberation Sans", sans-serif' font-size="6.3" stroke="#000" stroke-width="0.18" text-anchor="middle" transform="rotate(-90 103.80 226.72)">100</text>
<text x="103.80" y="205.43" font-family='"Liberation Sans", sans-serif' font-size="6.3" stroke="#000" stroke-width="0.18" text-anchor="middle" transform="rotate(-90 103.80 205.43)">150</text>
<text x="103.80" y="184.14" font-family='"Liberation Sans", sans-serif' font-size="6.3" stroke="#000" stroke-width="0.18" text-anchor="middle" transform="rotate(-90 103.80 184.14)">200</text>
<text x="103.80" y="162.85" font-family='"Liberation Sans", sans-serif' font-size="6.3" stroke="#000" stroke-width="0.18" text-anchor="middle" transform="rotate(-90 103.80 162.85)">250</text>
<text x="91.30" y="213.80" font-family='"Liberation Sans", sans-serif' font-size="8.7" stroke="#000" stroke-width="0.15" text-anchor="middle" transform="rotate(-90 91.30 213.80)">Count</text>
<polygon points="277.70,268.50 283.50,264.40 287.10,257.20 290.00,252.80 292.50,241.20 294.80,229.60 297.20,216.60 298.70,205.00 300.90,198.00 302.60,192.90 302.60,178.20 304.40,178.20 304.40,172.00 306.10,172.00 306.10,160.60 314.30,160.60 314.30,190.00 315.40,193.50 316.30,199.00 318.10,211.70 320.00,224.00 321.30,230.00 322.60,237.00 324.00,245.00 325.50,254.00 328.00,259.00 331.00,262.50 336.00,264.80 341.70,266.00 350.70,268.60" fill="#000" />
<rect x="307.90" y="160.60" width="2.10" height="7.90" fill="#8a8a8a"/>
<rect x="312.40" y="160.60" width="1.40" height="14.80" fill="#f0f0f0"/>
<path d="M272.5 160.0V270.0M272.0 160.5H391.0M390.5 160.5V269.5M272.0 269.5H391.0M314.5 160.5V269.5M387.5 160.5V269.5M314.5 190.5H387.5" stroke="#000" stroke-width="1.05" fill="none"/>
<line x1="272.80" y1="269.50" x2="272.80" y2="274.30" stroke="#000" stroke-width="1.3" />
<line x1="274.50" y1="269.50" x2="274.50" y2="272.30" stroke="#666" stroke-width="0.7" />
<line x1="276.00" y1="269.50" x2="276.00" y2="272.30" stroke="#666" stroke-width="0.7" />
<line x1="277.50" y1="269.50" x2="277.50" y2="272.30" stroke="#666" stroke-width="0.7" />
<line x1="279.00" y1="269.50" x2="279.00" y2="272.30" stroke="#666" stroke-width="0.7" />
<line x1="280.50" y1="269.50" x2="280.50" y2="272.30" stroke="#666" stroke-width="0.7" />
<line x1="282.00" y1="269.50" x2="282.00" y2="272.30" stroke="#666" stroke-width="0.7" />
<line x1="283.50" y1="269.50" x2="283.50" y2="272.30" stroke="#666" stroke-width="0.7" />
<line x1="285.00" y1="269.50" x2="285.00" y2="272.30" stroke="#666" stroke-width="0.7" />
<line x1="286.50" y1="269.50" x2="286.50" y2="272.30" stroke="#666" stroke-width="0.7" />
<line x1="288.00" y1="269.50" x2="288.00" y2="272.30" stroke="#666" stroke-width="0.7" />
<line x1="289.50" y1="269.50" x2="289.50" y2="272.30" stroke="#666" stroke-width="0.7" />
<line x1="291.00" y1="269.50" x2="291.00" y2="272.30" stroke="#666" stroke-width="0.7" />
<line x1="292.50" y1="269.50" x2="292.50" y2="272.30" stroke="#666" stroke-width="0.7" />
<line x1="294.00" y1="269.50" x2="294.00" y2="272.30" stroke="#666" stroke-width="0.7" />
<line x1="295.50" y1="269.50" x2="295.50" y2="272.30" stroke="#666" stroke-width="0.7" />
<line x1="273.50" y1="272.10" x2="297.50" y2="272.10" stroke="#888" stroke-width="0.6" />
<rect x="282.55" y="269.50" width="3.6" height="4.5" fill="#555"/>
<line x1="297.50" y1="269.50" x2="297.50" y2="274.30" stroke="#000" stroke-width="1.1" />
<line x1="306.05" y1="269.50" x2="306.05" y2="272.30" stroke="#333" stroke-width="0.8" />
<line x1="311.05" y1="269.50" x2="311.05" y2="272.30" stroke="#333" stroke-width="0.8" />
<line x1="314.60" y1="269.50" x2="314.60" y2="272.30" stroke="#333" stroke-width="0.8" />
<line x1="317.35" y1="269.50" x2="317.35" y2="272.30" stroke="#333" stroke-width="0.8" />
<line x1="319.60" y1="269.50" x2="319.60" y2="272.30" stroke="#333" stroke-width="0.8" />
<line x1="321.50" y1="269.50" x2="321.50" y2="272.30" stroke="#333" stroke-width="0.8" />
<line x1="323.15" y1="269.50" x2="323.15" y2="272.30" stroke="#333" stroke-width="0.8" />
<line x1="324.60" y1="269.50" x2="324.60" y2="272.30" stroke="#333" stroke-width="0.8" />
<line x1="325.90" y1="269.50" x2="325.90" y2="274.30" stroke="#000" stroke-width="1.1" />
<line x1="334.12" y1="269.50" x2="334.12" y2="272.30" stroke="#333" stroke-width="0.8" />
<line x1="338.93" y1="269.50" x2="338.93" y2="272.30" stroke="#333" stroke-width="0.8" />
<line x1="342.34" y1="269.50" x2="342.34" y2="272.30" stroke="#333" stroke-width="0.8" />
<line x1="344.98" y1="269.50" x2="344.98" y2="272.30" stroke="#333" stroke-width="0.8" />
<line x1="347.14" y1="269.50" x2="347.14" y2="272.30" stroke="#333" stroke-width="0.8" />
<line x1="348.97" y1="269.50" x2="348.97" y2="272.30" stroke="#333" stroke-width="0.8" />
<line x1="350.55" y1="269.50" x2="350.55" y2="272.30" stroke="#333" stroke-width="0.8" />
<line x1="351.95" y1="269.50" x2="351.95" y2="272.30" stroke="#333" stroke-width="0.8" />
<line x1="353.20" y1="269.50" x2="353.20" y2="274.30" stroke="#000" stroke-width="1.1" />
<line x1="361.36" y1="269.50" x2="361.36" y2="272.30" stroke="#333" stroke-width="0.8" />
<line x1="366.13" y1="269.50" x2="366.13" y2="272.30" stroke="#333" stroke-width="0.8" />
<line x1="369.52" y1="269.50" x2="369.52" y2="272.30" stroke="#333" stroke-width="0.8" />
<line x1="372.14" y1="269.50" x2="372.14" y2="272.30" stroke="#333" stroke-width="0.8" />
<line x1="374.29" y1="269.50" x2="374.29" y2="272.30" stroke="#333" stroke-width="0.8" />
<line x1="376.10" y1="269.50" x2="376.10" y2="272.30" stroke="#333" stroke-width="0.8" />
<line x1="377.67" y1="269.50" x2="377.67" y2="272.30" stroke="#333" stroke-width="0.8" />
<line x1="379.06" y1="269.50" x2="379.06" y2="272.30" stroke="#333" stroke-width="0.8" />
<line x1="380.30" y1="269.50" x2="380.30" y2="274.30" stroke="#000" stroke-width="1.1" />
<line x1="387.90" y1="269.50" x2="387.90" y2="273.00" stroke="#000" stroke-width="1" />
<text x="284.35" y="282.70" font-family='"Liberation Sans", sans-serif' font-size="6.3" stroke="#000" stroke-width="0.18" text-anchor="middle">0</text>
<text x="292.90" y="282.70" font-family='"Liberation Sans", sans-serif' font-size="6.3" stroke="#000" stroke-width="0.18">10<tspan font-size="4.6" dy="-3.6">2</tspan></text>
<text x="321.30" y="282.70" font-family='"Liberation Sans", sans-serif' font-size="6.3" stroke="#000" stroke-width="0.18">10<tspan font-size="4.6" dy="-3.6">3</tspan></text>
<text x="348.60" y="282.70" font-family='"Liberation Sans", sans-serif' font-size="6.3" stroke="#000" stroke-width="0.18">10<tspan font-size="4.6" dy="-3.6">4</tspan></text>
<text x="375.70" y="282.70" font-family='"Liberation Sans", sans-serif' font-size="6.3" stroke="#000" stroke-width="0.18">10<tspan font-size="4.6" dy="-3.6">5</tspan></text>
<line x1="266.50" y1="269.50" x2="272.50" y2="269.50" stroke="#111" stroke-width="1.0" />
<line x1="269.00" y1="265.50" x2="272.50" y2="265.50" stroke="#111" stroke-width="1.0" />
<line x1="269.00" y1="262.50" x2="272.50" y2="262.50" stroke="#111" stroke-width="1.0" />
<line x1="269.00" y1="258.50" x2="272.50" y2="258.50" stroke="#111" stroke-width="1.0" />
<line x1="269.00" y1="255.50" x2="272.50" y2="255.50" stroke="#111" stroke-width="1.0" />
<line x1="266.50" y1="251.50" x2="272.50" y2="251.50" stroke="#111" stroke-width="1.0" />
<line x1="269.00" y1="247.50" x2="272.50" y2="247.50" stroke="#111" stroke-width="1.0" />
<line x1="269.00" y1="244.50" x2="272.50" y2="244.50" stroke="#111" stroke-width="1.0" />
<line x1="269.00" y1="240.50" x2="272.50" y2="240.50" stroke="#111" stroke-width="1.0" />
<line x1="269.00" y1="236.50" x2="272.50" y2="236.50" stroke="#111" stroke-width="1.0" />
<line x1="266.50" y1="233.50" x2="272.50" y2="233.50" stroke="#111" stroke-width="1.0" />
<line x1="269.00" y1="229.50" x2="272.50" y2="229.50" stroke="#111" stroke-width="1.0" />
<line x1="269.00" y1="226.50" x2="272.50" y2="226.50" stroke="#111" stroke-width="1.0" />
<line x1="269.00" y1="222.50" x2="272.50" y2="222.50" stroke="#111" stroke-width="1.0" />
<line x1="269.00" y1="218.50" x2="272.50" y2="218.50" stroke="#111" stroke-width="1.0" />
<line x1="266.50" y1="215.50" x2="272.50" y2="215.50" stroke="#111" stroke-width="1.0" />
<line x1="269.00" y1="211.50" x2="272.50" y2="211.50" stroke="#111" stroke-width="1.0" />
<line x1="269.00" y1="207.50" x2="272.50" y2="207.50" stroke="#111" stroke-width="1.0" />
<line x1="269.00" y1="204.50" x2="272.50" y2="204.50" stroke="#111" stroke-width="1.0" />
<line x1="269.00" y1="200.50" x2="272.50" y2="200.50" stroke="#111" stroke-width="1.0" />
<line x1="266.50" y1="197.50" x2="272.50" y2="197.50" stroke="#111" stroke-width="1.0" />
<line x1="269.00" y1="193.50" x2="272.50" y2="193.50" stroke="#111" stroke-width="1.0" />
<line x1="269.00" y1="189.50" x2="272.50" y2="189.50" stroke="#111" stroke-width="1.0" />
<line x1="269.00" y1="186.50" x2="272.50" y2="186.50" stroke="#111" stroke-width="1.0" />
<line x1="269.00" y1="182.50" x2="272.50" y2="182.50" stroke="#111" stroke-width="1.0" />
<line x1="266.50" y1="178.50" x2="272.50" y2="178.50" stroke="#111" stroke-width="1.0" />
<line x1="269.00" y1="175.50" x2="272.50" y2="175.50" stroke="#111" stroke-width="1.0" />
<line x1="269.00" y1="171.50" x2="272.50" y2="171.50" stroke="#111" stroke-width="1.0" />
<line x1="269.00" y1="168.50" x2="272.50" y2="168.50" stroke="#111" stroke-width="1.0" />
<line x1="269.00" y1="164.50" x2="272.50" y2="164.50" stroke="#111" stroke-width="1.0" />
<line x1="266.50" y1="160.50" x2="272.50" y2="160.50" stroke="#111" stroke-width="1.0" />
<text x="266.50" y="269.50" font-family='"Liberation Sans", sans-serif' font-size="6.3" stroke="#000" stroke-width="0.18" text-anchor="middle" transform="rotate(-90 266.50 269.50)">0</text>
<text x="266.50" y="251.39" font-family='"Liberation Sans", sans-serif' font-size="6.3" stroke="#000" stroke-width="0.18" text-anchor="middle" transform="rotate(-90 266.50 251.39)">100</text>
<text x="266.50" y="233.27" font-family='"Liberation Sans", sans-serif' font-size="6.3" stroke="#000" stroke-width="0.18" text-anchor="middle" transform="rotate(-90 266.50 233.27)">200</text>
<text x="266.50" y="215.16" font-family='"Liberation Sans", sans-serif' font-size="6.3" stroke="#000" stroke-width="0.18" text-anchor="middle" transform="rotate(-90 266.50 215.16)">300</text>
<text x="266.50" y="197.05" font-family='"Liberation Sans", sans-serif' font-size="6.3" stroke="#000" stroke-width="0.18" text-anchor="middle" transform="rotate(-90 266.50 197.05)">400</text>
<text x="266.50" y="178.94" font-family='"Liberation Sans", sans-serif' font-size="6.3" stroke="#000" stroke-width="0.18" text-anchor="middle" transform="rotate(-90 266.50 178.94)">500</text>
<text x="266.50" y="160.82" font-family='"Liberation Sans", sans-serif' font-size="6.3" stroke="#000" stroke-width="0.18" text-anchor="middle" transform="rotate(-90 266.50 160.82)">600</text>
<text x="254.00" y="213.80" font-family='"Liberation Sans", sans-serif' font-size="8.7" stroke="#000" stroke-width="0.15" text-anchor="middle" transform="rotate(-90 254.00 213.80)">Count</text>
<path d="M442.50 267.50V268.87 M443.35 265.23V266.44 M444.20 260.89V264.00 M445.05 260.51V261.57 M445.90 256.92V259.27 M446.75 255.36V257.00 M447.60 253.70V254.73 M448.45 250.69V252.47 M449.30 248.32V249.33 M450.15 242.42V244.61 M451.00 238.80V239.89 M451.85 233.99V235.17 M452.70 226.88V230.44 M453.55 215.30V225.20 M454.40 210.39V211.60 M455.25 207.15V208.85 M456.10 203.53V207.54 M456.95 196.66V206.24 M457.80 197.22V204.93 M458.65 197.45V203.65 M459.50 175.89V202.76 M460.35 200.65V201.88 M461.20 176.43V200.67 M462.05 193.91V198.40 M462.90 193.87V195.88 M463.75 189.92V191.50 M464.60 184.28V187.12 M465.45 180.58V189.14 M466.30 190.35V192.02 M467.15 190.26V197.11 M468.00 193.06V202.87 M468.85 201.90V207.13 M469.70 201.10V210.58 M470.55 208.96V210.21 M471.40 205.27V206.44 M472.25 193.91V195.21 M473.10 197.94V206.27 M473.95 202.67V207.05 M474.80 204.81V207.82 M475.65 202.21V208.52 M476.50 204.77V209.20 M477.35 207.15V209.88 M478.20 200.52V209.44 M479.05 201.69V208.76 M479.90 205.96V208.08 M480.75 198.24V203.87 M481.60 194.13V199.20 M482.45 184.20V194.52 M483.30 180.75V187.52 M484.15 178.31V180.29 M485.00 169.11V179.68 M485.85 177.66V179.07 M486.70 173.78V178.60 M487.55 169.25V178.60 M488.40 177.23V178.60 M489.25 176.57V178.60 M490.10 180.86V181.88 M490.95 185.76V195.22 M491.80 184.58V195.62 M492.65 188.98V196.03 M493.50 184.15V196.37 M494.35 193.63V196.65 M495.20 189.26V196.93 M496.05 204.31V206.26 M496.90 221.18V223.12 M497.75 238.58V241.00 M498.60 239.90V244.40 M499.45 242.92V247.80 M500.30 248.69V251.20 M501.15 249.53V254.60 M502.00 255.77V256.88 M502.85 251.43V258.36 M503.70 253.82V259.85 M504.55 250.98V261.34 M505.40 254.38V262.83 M506.25 261.65V264.31 M507.10 261.47V265.64 M507.95 259.04V266.90 M508.80 267.14V268.15 M509.65 267.94V269.41" stroke="#222" stroke-width="0.5" fill="none"/>
<line x1="454.90" y1="200.20" x2="454.90" y2="269.50" stroke="#444" stroke-width="0.8" />
<line x1="458.60" y1="180.10" x2="458.60" y2="269.50" stroke="#444" stroke-width="0.8" />
<line x1="460.60" y1="168.50" x2="460.60" y2="269.50" stroke="#444" stroke-width="0.8" />
<line x1="464.30" y1="172.80" x2="464.30" y2="269.50" stroke="#444" stroke-width="0.8" />
<line x1="468.30" y1="184.40" x2="468.30" y2="269.50" stroke="#444" stroke-width="0.8" />
<line x1="474.30" y1="193.40" x2="474.30" y2="269.50" stroke="#444" stroke-width="0.8" />
<line x1="477.30" y1="197.00" x2="477.30" y2="269.50" stroke="#444" stroke-width="0.8" />
<line x1="479.80" y1="197.00" x2="479.80" y2="269.50" stroke="#444" stroke-width="0.8" />
<line x1="482.80" y1="180.00" x2="482.80" y2="269.50" stroke="#444" stroke-width="0.8" />
<line x1="484.00" y1="172.70" x2="484.00" y2="269.50" stroke="#444" stroke-width="0.8" />
<line x1="487.10" y1="161.00" x2="487.10" y2="269.50" stroke="#444" stroke-width="0.8" />
<line x1="490.10" y1="177.00" x2="490.10" y2="269.50" stroke="#444" stroke-width="0.8" />
<line x1="492.90" y1="180.60" x2="492.90" y2="269.50" stroke="#444" stroke-width="0.8" />
<line x1="495.40" y1="184.30" x2="495.40" y2="269.50" stroke="#444" stroke-width="0.8" />
<line x1="444.50" y1="257.00" x2="444.50" y2="269.50" stroke="#444" stroke-width="0.8" />
<line x1="448.00" y1="251.00" x2="448.00" y2="269.50" stroke="#444" stroke-width="0.8" />
<line x1="503.00" y1="247.00" x2="503.00" y2="269.50" stroke="#444" stroke-width="0.8" />
<line x1="507.75" y1="249.50" x2="507.75" y2="269.50" stroke="#444" stroke-width="0.8" />
<polygon points="442.00,269.30 445.25,260.00 449.00,250.00 453.50,225.00 454.50,209.00 458.60,202.70 461.00,200.20 462.80,195.40 464.70,185.60 466.50,191.70 468.30,203.90 470.10,211.20 471.50,205.00 472.00,189.30 472.80,205.00 475.00,207.00 477.50,209.00 480.00,207.00 482.80,191.60 484.00,179.40 486.50,177.60 490.00,177.60 490.50,194.00 493.00,195.20 495.40,196.00 496.20,207.40 497.75,240.00 501.50,255.00 506.50,263.75 510.25,269.30" fill="#000" />
<path d="M429.5 160.0V270.0M429.0 160.5H547.0M546.5 160.5V269.5M429.0 269.5H547.0M471.5 160.5V269.5M543.5 160.5V269.5M471.5 192.5H543.5" stroke="#000" stroke-width="1.05" fill="none"/>
<line x1="429.80" y1="269.50" x2="429.80" y2="274.30" stroke="#000" stroke-width="1.3" />
<line x1="431.50" y1="269.50" x2="431.50" y2="272.30" stroke="#666" stroke-width="0.7" />
<line x1="433.00" y1="269.50" x2="433.00" y2="272.30" stroke="#666" stroke-width="0.7" />
<line x1="434.50" y1="269.50" x2="434.50" y2="272.30" stroke="#666" stroke-width="0.7" />
<line x1="436.00" y1="269.50" x2="436.00" y2="272.30" stroke="#666" stroke-width="0.7" />
<line x1="437.50" y1="269.50" x2="437.50" y2="272.30" stroke="#666" stroke-width="0.7" />
<line x1="439.00" y1="269.50" x2="439.00" y2="272.30" stroke="#666" stroke-width="0.7" />
<line x1="440.50" y1="269.50" x2="440.50" y2="272.30" stroke="#666" stroke-width="0.7" />
<line x1="442.00" y1="269.50" x2="442.00" y2="272.30" stroke="#666" stroke-width="0.7" />
<line x1="443.50" y1="269.50" x2="443.50" y2="272.30" stroke="#666" stroke-width="0.7" />
<line x1="445.00" y1="269.50" x2="445.00" y2="272.30" stroke="#666" stroke-width="0.7" />
<line x1="446.50" y1="269.50" x2="446.50" y2="272.30" stroke="#666" stroke-width="0.7" />
<line x1="448.00" y1="269.50" x2="448.00" y2="272.30" stroke="#666" stroke-width="0.7" />
<line x1="449.50" y1="269.50" x2="449.50" y2="272.30" stroke="#666" stroke-width="0.7" />
<line x1="451.00" y1="269.50" x2="451.00" y2="272.30" stroke="#666" stroke-width="0.7" />
<line x1="452.50" y1="269.50" x2="452.50" y2="272.30" stroke="#666" stroke-width="0.7" />
<line x1="430.50" y1="272.10" x2="454.50" y2="272.10" stroke="#888" stroke-width="0.6" />
<rect x="439.55" y="269.50" width="3.6" height="4.5" fill="#555"/>
<line x1="454.50" y1="269.50" x2="454.50" y2="274.30" stroke="#000" stroke-width="1.1" />
<line x1="463.05" y1="269.50" x2="463.05" y2="272.30" stroke="#333" stroke-width="0.8" />
<line x1="468.05" y1="269.50" x2="468.05" y2="272.30" stroke="#333" stroke-width="0.8" />
<line x1="471.60" y1="269.50" x2="471.60" y2="272.30" stroke="#333" stroke-width="0.8" />
<line x1="474.35" y1="269.50" x2="474.35" y2="272.30" stroke="#333" stroke-width="0.8" />
<line x1="476.60" y1="269.50" x2="476.60" y2="272.30" stroke="#333" stroke-width="0.8" />
<line x1="478.50" y1="269.50" x2="478.50" y2="272.30" stroke="#333" stroke-width="0.8" />
<line x1="480.15" y1="269.50" x2="480.15" y2="272.30" stroke="#333" stroke-width="0.8" />
<line x1="481.60" y1="269.50" x2="481.60" y2="272.30" stroke="#333" stroke-width="0.8" />
<line x1="482.90" y1="269.50" x2="482.90" y2="274.30" stroke="#000" stroke-width="1.1" />
<line x1="491.12" y1="269.50" x2="491.12" y2="272.30" stroke="#333" stroke-width="0.8" />
<line x1="495.93" y1="269.50" x2="495.93" y2="272.30" stroke="#333" stroke-width="0.8" />
<line x1="499.34" y1="269.50" x2="499.34" y2="272.30" stroke="#333" stroke-width="0.8" />
<line x1="501.98" y1="269.50" x2="501.98" y2="272.30" stroke="#333" stroke-width="0.8" />
<line x1="504.14" y1="269.50" x2="504.14" y2="272.30" stroke="#333" stroke-width="0.8" />
<line x1="505.97" y1="269.50" x2="505.97" y2="272.30" stroke="#333" stroke-width="0.8" />
<line x1="507.55" y1="269.50" x2="507.55" y2="272.30" stroke="#333" stroke-width="0.8" />
<line x1="508.95" y1="269.50" x2="508.95" y2="272.30" stroke="#333" stroke-width="0.8" />
<line x1="510.20" y1="269.50" x2="510.20" y2="274.30" stroke="#000" stroke-width="1.1" />
<line x1="518.36" y1="269.50" x2="518.36" y2="272.30" stroke="#333" stroke-width="0.8" />
<line x1="523.13" y1="269.50" x2="523.13" y2="272.30" stroke="#333" stroke-width="0.8" />
<line x1="526.52" y1="269.50" x2="526.52" y2="272.30" stroke="#333" stroke-width="0.8" />
<line x1="529.14" y1="269.50" x2="529.14" y2="272.30" stroke="#333" stroke-width="0.8" />
<line x1="531.29" y1="269.50" x2="531.29" y2="272.30" stroke="#333" stroke-width="0.8" />
<line x1="533.10" y1="269.50" x2="533.10" y2="272.30" stroke="#333" stroke-width="0.8" />
<line x1="534.67" y1="269.50" x2="534.67" y2="272.30" stroke="#333" stroke-width="0.8" />
<line x1="536.06" y1="269.50" x2="536.06" y2="272.30" stroke="#333" stroke-width="0.8" />
<line x1="537.30" y1="269.50" x2="537.30" y2="274.30" stroke="#000" stroke-width="1.1" />
<line x1="543.50" y1="269.50" x2="543.50" y2="273.00" stroke="#000" stroke-width="1" />
<text x="441.35" y="282.70" font-family='"Liberation Sans", sans-serif' font-size="6.3" stroke="#000" stroke-width="0.18" text-anchor="middle">0</text>
<text x="449.90" y="282.70" font-family='"Liberation Sans", sans-serif' font-size="6.3" stroke="#000" stroke-width="0.18">10<tspan font-size="4.6" dy="-3.6">2</tspan></text>
<text x="478.30" y="282.70" font-family='"Liberation Sans", sans-serif' font-size="6.3" stroke="#000" stroke-width="0.18">10<tspan font-size="4.6" dy="-3.6">3</tspan></text>
<text x="505.60" y="282.70" font-family='"Liberation Sans", sans-serif' font-size="6.3" stroke="#000" stroke-width="0.18">10<tspan font-size="4.6" dy="-3.6">4</tspan></text>
<text x="532.70" y="282.70" font-family='"Liberation Sans", sans-serif' font-size="6.3" stroke="#000" stroke-width="0.18">10<tspan font-size="4.6" dy="-3.6">5</tspan></text>
<line x1="423.50" y1="269.50" x2="429.50" y2="269.50" stroke="#111" stroke-width="1.0" />
<line x1="426.00" y1="265.50" x2="429.50" y2="265.50" stroke="#111" stroke-width="1.0" />
<line x1="426.00" y1="261.50" x2="429.50" y2="261.50" stroke="#111" stroke-width="1.0" />
<line x1="426.00" y1="257.50" x2="429.50" y2="257.50" stroke="#111" stroke-width="1.0" />
<line x1="426.00" y1="253.50" x2="429.50" y2="253.50" stroke="#111" stroke-width="1.0" />
<line x1="423.50" y1="249.50" x2="429.50" y2="249.50" stroke="#111" stroke-width="1.0" />
<line x1="426.00" y1="245.50" x2="429.50" y2="245.50" stroke="#111" stroke-width="1.0" />
<line x1="426.00" y1="241.50" x2="429.50" y2="241.50" stroke="#111" stroke-width="1.0" />
<line x1="426.00" y1="237.50" x2="429.50" y2="237.50" stroke="#111" stroke-width="1.0" />
<line x1="426.00" y1="233.50" x2="429.50" y2="233.50" stroke="#111" stroke-width="1.0" />
<line x1="423.50" y1="229.50" x2="429.50" y2="229.50" stroke="#111" stroke-width="1.0" />
<line x1="426.00" y1="225.50" x2="429.50" y2="225.50" stroke="#111" stroke-width="1.0" />
<line x1="426.00" y1="221.50" x2="429.50" y2="221.50" stroke="#111" stroke-width="1.0" />
<line x1="426.00" y1="217.50" x2="429.50" y2="217.50" stroke="#111" stroke-width="1.0" />
<line x1="426.00" y1="213.50" x2="429.50" y2="213.50" stroke="#111" stroke-width="1.0" />
<line x1="423.50" y1="209.50" x2="429.50" y2="209.50" stroke="#111" stroke-width="1.0" />
<line x1="426.00" y1="205.50" x2="429.50" y2="205.50" stroke="#111" stroke-width="1.0" />
<line x1="426.00" y1="201.50" x2="429.50" y2="201.50" stroke="#111" stroke-width="1.0" />
<line x1="426.00" y1="197.50" x2="429.50" y2="197.50" stroke="#111" stroke-width="1.0" />
<line x1="426.00" y1="193.50" x2="429.50" y2="193.50" stroke="#111" stroke-width="1.0" />
<line x1="423.50" y1="189.50" x2="429.50" y2="189.50" stroke="#111" stroke-width="1.0" />
<line x1="426.00" y1="185.50" x2="429.50" y2="185.50" stroke="#111" stroke-width="1.0" />
<line x1="426.00" y1="181.50" x2="429.50" y2="181.50" stroke="#111" stroke-width="1.0" />
<line x1="426.00" y1="177.50" x2="429.50" y2="177.50" stroke="#111" stroke-width="1.0" />
<line x1="426.00" y1="173.50" x2="429.50" y2="173.50" stroke="#111" stroke-width="1.0" />
<line x1="423.50" y1="169.50" x2="429.50" y2="169.50" stroke="#111" stroke-width="1.0" />
<line x1="426.00" y1="165.50" x2="429.50" y2="165.50" stroke="#111" stroke-width="1.0" />
<line x1="426.00" y1="161.50" x2="429.50" y2="161.50" stroke="#111" stroke-width="1.0" />
<text x="423.50" y="269.50" font-family='"Liberation Sans", sans-serif' font-size="6.3" stroke="#000" stroke-width="0.18" text-anchor="middle" transform="rotate(-90 423.50 269.50)">0</text>
<text x="423.50" y="249.50" font-family='"Liberation Sans", sans-serif' font-size="6.3" stroke="#000" stroke-width="0.18" text-anchor="middle" transform="rotate(-90 423.50 249.50)">5</text>
<text x="423.50" y="229.50" font-family='"Liberation Sans", sans-serif' font-size="6.3" stroke="#000" stroke-width="0.18" text-anchor="middle" transform="rotate(-90 423.50 229.50)">10</text>
<text x="423.50" y="209.50" font-family='"Liberation Sans", sans-serif' font-size="6.3" stroke="#000" stroke-width="0.18" text-anchor="middle" transform="rotate(-90 423.50 209.50)">15</text>
<text x="423.50" y="189.50" font-family='"Liberation Sans", sans-serif' font-size="6.3" stroke="#000" stroke-width="0.18" text-anchor="middle" transform="rotate(-90 423.50 189.50)">20</text>
<text x="423.50" y="169.50" font-family='"Liberation Sans", sans-serif' font-size="6.3" stroke="#000" stroke-width="0.18" text-anchor="middle" transform="rotate(-90 423.50 169.50)">25</text>
<text x="411.00" y="214.00" font-family='"Liberation Sans", sans-serif' font-size="8.7" stroke="#000" stroke-width="0.15" text-anchor="middle" transform="rotate(-90 411.00 214.00)">Count</text>
<text transform="translate(1.85 10.50) scale(1.0010 1)" font-family='"Liberation Sans", sans-serif' font-weight="bold" font-size="17.49" fill="#000">a</text>
<text transform="translate(0.89 344.58) scale(1.0865 1)" font-family='"Liberation Sans", sans-serif' font-weight="bold" font-size="17.49" fill="#000">b</text>
<text transform="translate(22.96 32.79) scale(1.1118 1)" font-family='"Liberation Serif", serif' font-weight="bold" font-size="13.23" fill="#000">CDDP</text>
<text transform="translate(10.53 82.08) scale(1.1401 1)" font-family='"Liberation Serif", serif' font-weight="bold" font-size="13.23" fill="#000">0 μg / mL</text>
<text transform="translate(0.99 221.73) scale(1.1246 1)" font-family='"Liberation Serif", serif' font-weight="bold" font-size="13.23" fill="#000">100 μg / mL</text>
<text transform="translate(127.98 10.03) scale(1.0689 1)" font-family='"Liberation Serif", serif' font-weight="bold" font-size="11.51" fill="#000">CD20</text>
<text transform="translate(167.11 10.03) scale(1.0286 1)" font-family='"Liberation Serif", serif' font-weight="bold" font-size="11.51" fill="#000">CD138</text>
<text transform="translate(290.88 10.03) scale(1.0837 1)" font-family='"Liberation Serif", serif' font-weight="bold" font-size="11.51" fill="#000">CD20</text>
<text transform="translate(330.89 10.03) scale(1.0619 1)" font-family='"Liberation Serif", serif' font-weight="bold" font-size="11.51" fill="#000">CD138</text>
<text transform="translate(447.59 10.03) scale(1.0652 1)" font-family='"Liberation Serif", serif' font-weight="bold" font-size="11.51" fill="#000">CD20</text>
<text transform="translate(487.09 10.03) scale(1.0619 1)" font-family='"Liberation Serif", serif' font-weight="bold" font-size="11.51" fill="#000">CD138</text>
<text transform="translate(176.15 97.93) scale(1.0355 1)" font-family='"Liberation Serif", serif' font-weight="bold" font-size="11.63" fill="#000">3.1</text>
<text transform="translate(192.10 97.93) scale(0.9492 1)" font-family='"Liberation Serif", serif' font-weight="bold" font-size="11.63" fill="#000">%</text>
<text transform="translate(339.94 76.18) scale(1.0693 1)" font-family='"Liberation Serif", serif' font-weight="bold" font-size="11.63" fill="#000">4.6</text>
<text transform="translate(356.28 76.18) scale(0.9599 1)" font-family='"Liberation Serif", serif' font-weight="bold" font-size="11.63" fill="#000">%</text>
<text transform="translate(492.99 73.13) scale(1.0660 1)" font-family='"Liberation Serif", serif' font-weight="bold" font-size="11.63" fill="#000">15.8</text>
<text transform="translate(514.66 73.13) scale(0.8959 1)" font-family='"Liberation Serif", serif' font-weight="bold" font-size="11.63" fill="#000">%</text>
<text transform="translate(175.26 234.03) scale(1.0668 1)" font-family='"Liberation Serif", serif' font-weight="bold" font-size="11.63" fill="#000">2.0</text>
<text transform="translate(190.92 234.03) scale(0.9279 1)" font-family='"Liberation Serif", serif' font-weight="bold" font-size="11.63" fill="#000">%</text>
<text transform="translate(335.56 209.58) scale(1.0953 1)" font-family='"Liberation Serif", serif' font-weight="bold" font-size="11.63" fill="#000">16.2</text>
<text transform="translate(357.66 209.58) scale(0.8959 1)" font-family='"Liberation Serif", serif' font-weight="bold" font-size="11.63" fill="#000">%</text>
<text transform="translate(503.41 206.78) scale(1.0843 1)" font-family='"Liberation Serif", serif' font-weight="bold" font-size="11.63" fill="#000">61.9</text>
<text transform="translate(526.12 206.78) scale(0.9279 1)" font-family='"Liberation Serif", serif' font-weight="bold" font-size="11.63" fill="#000">%</text>
<text transform="translate(297.54 309.55) scale(1.0551 1)" font-family='"Liberation Serif", serif' font-weight="bold" font-size="12.04" fill="#000">Annexin V</text>
<text transform="translate(175.07 343.75) scale(1.1046 1)" font-family='"Liberation Serif", serif' font-weight="bold" font-size="15.78" fill="#000">Proportion of Annexin V positive cells (%)</text>
<text transform="translate(124.29 376.71) scale(1.1746 1)" font-family='"Liberation Serif", serif' font-weight="bold" font-size="16.02" fill="#000">0</text>
<text transform="translate(200.94 376.16) scale(1.0800 1)" font-family='"Liberation Serif", serif' font-weight="bold" font-size="16.02" fill="#000">20</text>
<text transform="translate(283.17 376.21) scale(1.1233 1)" font-family='"Liberation Serif", serif' font-weight="bold" font-size="16.02" fill="#000">40</text>
<text transform="translate(365.75 376.21) scale(1.0923 1)" font-family='"Liberation Serif", serif' font-weight="bold" font-size="16.02" fill="#000">60</text>
<text transform="translate(449.43 376.21) scale(1.1325 1)" font-family='"Liberation Serif", serif' font-weight="bold" font-size="16.02" fill="#000">80</text>
<text transform="translate(524.32 376.21) scale(1.0617 1)" font-family='"Liberation Serif", serif' font-weight="bold" font-size="16.02" fill="#000">100</text>
<text transform="translate(2.53 436.27) scale(1.0789 1)" font-family='"Liberation Serif", serif' font-weight="bold" font-size="16.05" fill="#000">CD20</text>
<text transform="translate(57.52 436.27) scale(1.0948 1)" font-family='"Liberation Serif", serif' font-weight="bold" font-size="16.05" fill="#000">CD138</text>
<text transform="translate(1.83 492.92) scale(1.0789 1)" font-family='"Liberation Serif", serif' font-weight="bold" font-size="16.05" fill="#000">CD20</text>
<text transform="translate(58.40 492.92) scale(1.1253 1)" font-family='"Liberation Serif", serif' font-weight="bold" font-size="16.05" fill="#000">CD138</text>
<text transform="translate(0.93 554.62) scale(1.0894 1)" font-family='"Liberation Serif", serif' font-weight="bold" font-size="16.05" fill="#000">CD20</text>
<text transform="translate(57.50 554.62) scale(1.1188 1)" font-family='"Liberation Serif", serif' font-weight="bold" font-size="16.05" fill="#000">CD138</text>
<text transform="translate(461.11 481.04) scale(1.0830 1)" font-family='"Liberation Serif", serif' font-weight="bold" font-size="16.50" fill="#000">CDDP</text>
<text transform="translate(475.03 507.51) scale(1.0814 1)" font-family='"Liberation Serif", serif' font-weight="bold" font-size="16.50" fill="#000">0 μg / mL</text>
<text transform="translate(458.88 542.01) scale(1.0611 1)" font-family='"Liberation Serif", serif' font-weight="bold" font-size="16.50" fill="#000">100 μg / mL</text>
<rect x="162.40" y="4.45" width="1.80" height="0.90" fill="#111"/>
<rect x="206.45" y="4.45" width="1.80" height="0.90" fill="#111"/>
<rect x="324.50" y="4.25" width="3.40" height="0.90" fill="#111"/><rect x="325.75" y="3.30" width="0.90" height="2.80" fill="#111"/>
<rect x="369.70" y="4.45" width="1.80" height="0.90" fill="#111"/>
<rect x="480.90" y="4.25" width="3.40" height="0.90" fill="#111"/><rect x="482.15" y="3.30" width="0.90" height="2.80" fill="#111"/>
<rect x="525.70" y="4.25" width="3.40" height="0.90" fill="#111"/><rect x="526.95" y="3.30" width="0.90" height="2.80" fill="#111"/>
<rect x="50.60" y="427.60" width="2.40" height="1.20" fill="#111"/>
<rect x="115.40" y="427.50" width="2.40" height="1.20" fill="#111"/>
<rect x="49.85" y="484.65" width="5.00" height="1.20" fill="#111"/><rect x="51.75" y="482.80" width="1.20" height="4.90" fill="#111"/>
<rect x="115.85" y="484.90" width="2.40" height="1.20" fill="#111"/>
<rect x="48.90" y="546.90" width="5.00" height="1.20" fill="#111"/><rect x="50.80" y="545.05" width="1.20" height="4.90" fill="#111"/>
<rect x="114.55" y="546.90" width="5.00" height="1.20" fill="#111"/><rect x="116.45" y="545.05" width="1.20" height="4.90" fill="#111"/>
<line x1="120.00" y1="295.00" x2="520.00" y2="295.00" stroke="#000" stroke-width="2" />
<polygon points="518.00,291.30 531.80,295.00 518.00,298.70" fill="#000" />
<line x1="127.40" y1="394.40" x2="539.30" y2="394.40" stroke="#000" stroke-width="2" />
<line x1="128.40" y1="383.30" x2="128.40" y2="395.40" stroke="#000" stroke-width="2" />
<line x1="210.10" y1="383.30" x2="210.10" y2="395.40" stroke="#000" stroke-width="2" />
<line x1="291.00" y1="383.30" x2="291.00" y2="395.40" stroke="#000" stroke-width="2" />
<line x1="373.60" y1="383.30" x2="373.60" y2="395.40" stroke="#000" stroke-width="2" />
<line x1="458.00" y1="383.30" x2="458.00" y2="395.40" stroke="#000" stroke-width="2" />
<line x1="538.30" y1="383.30" x2="538.30" y2="395.40" stroke="#000" stroke-width="2" />
<rect x="127.9" y="409.8" width="11.20" height="20.20" fill="#555"/>
<line x1="139.10" y1="419.40" x2="141.25" y2="419.40" stroke="#555" stroke-width="1.5" />
<line x1="141.25" y1="414.00" x2="141.25" y2="424.80" stroke="#555" stroke-width="1.8" />
<rect x="127.9" y="431.0" width="9.90" height="20.00" fill="#000"/>
<line x1="137.80" y1="441.40" x2="140.00" y2="441.40" stroke="#000" stroke-width="1.7" />
<line x1="140.00" y1="436.30" x2="140.00" y2="446.50" stroke="#000" stroke-width="1.8" />
<rect x="127.5" y="465.0" width="17.50" height="20.00" fill="#555"/>
<line x1="145.00" y1="475.00" x2="147.50" y2="475.00" stroke="#555" stroke-width="1.5" />
<line x1="147.50" y1="469.50" x2="147.50" y2="480.50" stroke="#555" stroke-width="1.8" />
<rect x="127.5" y="487.0" width="60.50" height="20.50" fill="#000"/>
<line x1="188.00" y1="497.50" x2="196.75" y2="497.50" stroke="#000" stroke-width="1.7" />
<line x1="196.75" y1="492.00" x2="196.75" y2="503.00" stroke="#000" stroke-width="1.8" />
<rect x="127.5" y="530.0" width="52.00" height="19.50" fill="#555"/>
<line x1="179.50" y1="539.75" x2="185.00" y2="539.75" stroke="#555" stroke-width="1.5" />
<line x1="185.00" y1="534.50" x2="185.00" y2="545.00" stroke="#555" stroke-width="1.8" />
<rect x="127.5" y="551.9" width="272.20" height="20.40" fill="#000"/>
<line x1="399.70" y1="561.45" x2="409.30" y2="561.45" stroke="#000" stroke-width="1.7" />
<line x1="409.30" y1="555.70" x2="409.30" y2="567.20" stroke="#000" stroke-width="1.8" />
<line x1="212.60" y1="493.70" x2="212.60" y2="500.50" stroke="#333" stroke-width="0.7" /><line x1="209.66" y1="495.40" x2="215.54" y2="498.80" stroke="#333" stroke-width="0.7" /><line x1="215.54" y1="495.40" x2="209.66" y2="498.80" stroke="#333" stroke-width="0.7" /><ellipse cx="212.60" cy="499.48" rx="1.22" ry="0.85" transform="rotate(90 212.60 499.48)" fill="#000"/><ellipse cx="210.54" cy="498.29" rx="1.22" ry="0.85" transform="rotate(150 210.54 498.29)" fill="#000"/><ellipse cx="210.54" cy="495.91" rx="1.22" ry="0.85" transform="rotate(210 210.54 495.91)" fill="#000"/><ellipse cx="212.60" cy="494.72" rx="1.22" ry="0.85" transform="rotate(270 212.60 494.72)" fill="#000"/><ellipse cx="214.66" cy="495.91" rx="1.22" ry="0.85" transform="rotate(330 214.66 495.91)" fill="#000"/><ellipse cx="214.66" cy="498.29" rx="1.22" ry="0.85" transform="rotate(390 214.66 498.29)" fill="#000"/>
<line x1="425.50" y1="557.50" x2="425.50" y2="563.70" stroke="#333" stroke-width="0.7" /><line x1="422.82" y1="559.05" x2="428.18" y2="562.15" stroke="#333" stroke-width="0.7" /><line x1="428.18" y1="559.05" x2="422.82" y2="562.15" stroke="#333" stroke-width="0.7" /><ellipse cx="425.50" cy="562.77" rx="1.12" ry="0.78" transform="rotate(90 425.50 562.77)" fill="#000"/><ellipse cx="423.62" cy="561.69" rx="1.12" ry="0.78" transform="rotate(150 423.62 561.69)" fill="#000"/><ellipse cx="423.62" cy="559.51" rx="1.12" ry="0.78" transform="rotate(210 423.62 559.51)" fill="#000"/><ellipse cx="425.50" cy="558.43" rx="1.12" ry="0.78" transform="rotate(270 425.50 558.43)" fill="#000"/><ellipse cx="427.38" cy="559.51" rx="1.12" ry="0.78" transform="rotate(330 427.38 559.51)" fill="#000"/><ellipse cx="427.38" cy="561.69" rx="1.12" ry="0.78" transform="rotate(390 427.38 561.69)" fill="#000"/>
<rect x="439" y="492" width="15.5" height="19.3" fill="#555"/>
<rect x="439" y="526.3" width="15.5" height="20" fill="#000"/>
</svg>
</body></html>
